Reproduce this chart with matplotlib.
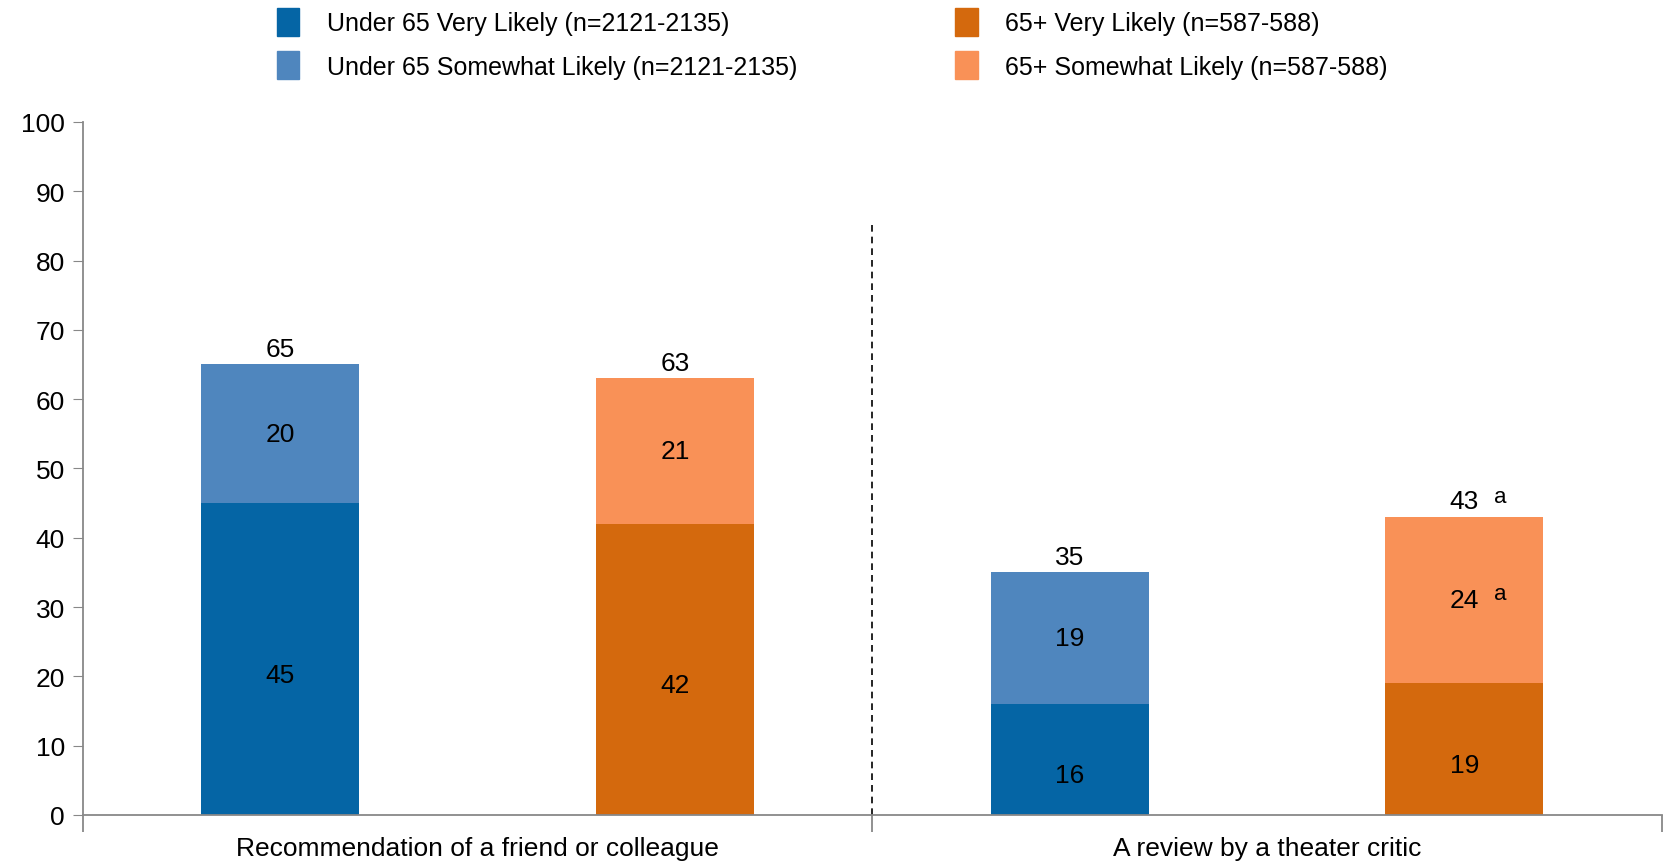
import numpy as np
import matplotlib
matplotlib.use("Agg")
import matplotlib.pyplot as plt
from matplotlib import font_manager
from matplotlib.patches import Patch

# Font: narrow sans if available
names = {f.name for f in font_manager.fontManager.ttflist}
fam = 'Liberation Sans Narrow' if 'Liberation Sans Narrow' in names else 'Liberation Sans'
plt.rcParams['font.family'] = [fam, 'DejaVu Sans']

# Data
categories = ["Recommendation of a friend or colleague", "A review by a theater critic"]
under65_very = [45, 16]
under65_somewhat = [20, 19]
over65_very = [42, 19]
over65_somewhat = [21, 24]
under65_total = [65, 35]
over65_total = [63, 43]
over65_somewhat_note = ["", "a"]
over65_total_note = ["", "a"]

legend_labels = ["Under 65 Very Likely (n=2121-2135)",
                 "Under 65 Somewhat Likely (n=2121-2135)",
                 "65+ Very Likely (n=587-588)",
                 "65+ Somewhat Likely (n=587-588)"]

c_dblue = '#0565A5'
c_lblue = '#4F86BE'
c_dorange = '#D4690D'
c_lorange = '#F99157'

fig = plt.figure(figsize=(16.67, 8.62), dpi=100)
ax = fig.add_axes([0.0498, 0.0534, 0.947, 0.804])

width = 0.4
x_under = np.arange(len(categories)) * 2
x_over = x_under + 1

ax.bar(x_under, under65_very, width, color=c_dblue)
ax.bar(x_under, under65_somewhat, width, bottom=under65_very, color=c_lblue)
ax.bar(x_over, over65_very, width, color=c_dorange)
ax.bar(x_over, over65_somewhat, width, bottom=over65_very, color=c_lorange)

fs = 19
low = 2.3  # bottom segment labels sit a little below the middle
for i in range(len(categories)):
    ax.text(x_under[i], under65_very[i] / 2 - low, str(under65_very[i]), ha='center', va='center', fontsize=fs)
    ax.text(x_under[i], under65_very[i] + under65_somewhat[i] / 2, str(under65_somewhat[i]),
            ha='center', va='center', fontsize=fs)
    ax.text(x_under[i], under65_total[i] + 0.5, str(under65_total[i]), ha='center', va='bottom', fontsize=fs)
    ax.text(x_over[i], over65_very[i] / 2 - low, str(over65_very[i]), ha='center', va='center', fontsize=fs)
    ax.text(x_over[i], over65_very[i] + over65_somewhat[i] / 2, str(over65_somewhat[i]),
            ha='center', va='center', fontsize=fs)
    if over65_somewhat_note[i]:
        ax.text(x_over[i] + 0.075, over65_very[i] + over65_somewhat[i] / 2 + 0.9, over65_somewhat_note[i],
                ha='left', va='center', fontsize=16)
    ax.text(x_over[i], over65_total[i] + 0.5, str(over65_total[i]), ha='center', va='bottom', fontsize=fs)
    if over65_total_note[i]:
        ax.text(x_over[i] + 0.075, over65_total[i] + 3.0, over65_total_note[i],
                ha='left', va='center', fontsize=16)

# divider
ax.plot([1.5, 1.5], [0, 85.5], color='black', lw=1.2, ls=(0, (4, 3)))

ax.set_xlim(-0.5, 3.5)
ax.set_ylim(0, 100)
ax.set_yticks(np.arange(0, 101, 10))
ax.tick_params(axis='y', labelsize=fs, length=7, color='#888888', direction='out', pad=6)
ax.set_xticks([-0.5, 0.5, 1.5, 2.5, 3.5], minor=True)
ax.set_xticks([0.5, 2.5])
ax.set_xticklabels(categories, fontsize=fs)
ax.tick_params(axis='x', which='major', length=0, pad=15)
ax.tick_params(axis='x', which='minor', length=12, color='#888888', width=1.3)
for s in ['top', 'right']:
    ax.spines[s].set_visible(False)
for s in ['left', 'bottom']:
    ax.spines[s].set_color('#888888')
    ax.spines[s].set_linewidth(1.3)

h = [Patch(color=c) for c in [c_dblue, c_lblue, c_dorange, c_lorange]]
leg_kw = dict(frameon=False, fontsize=18, handlelength=0.9, handleheight=1.35,
              handletextpad=1.1, labelspacing=0.62, borderaxespad=0, borderpad=0)
fig.legend(h[:2], legend_labels[:2], loc='upper left', bbox_to_anchor=(0.166, 0.99), **leg_kw)
fig.legend(h[2:], legend_labels[2:], loc='upper left', bbox_to_anchor=(0.573, 0.99), **leg_kw)

fig.savefig('out.png', dpi=100)
